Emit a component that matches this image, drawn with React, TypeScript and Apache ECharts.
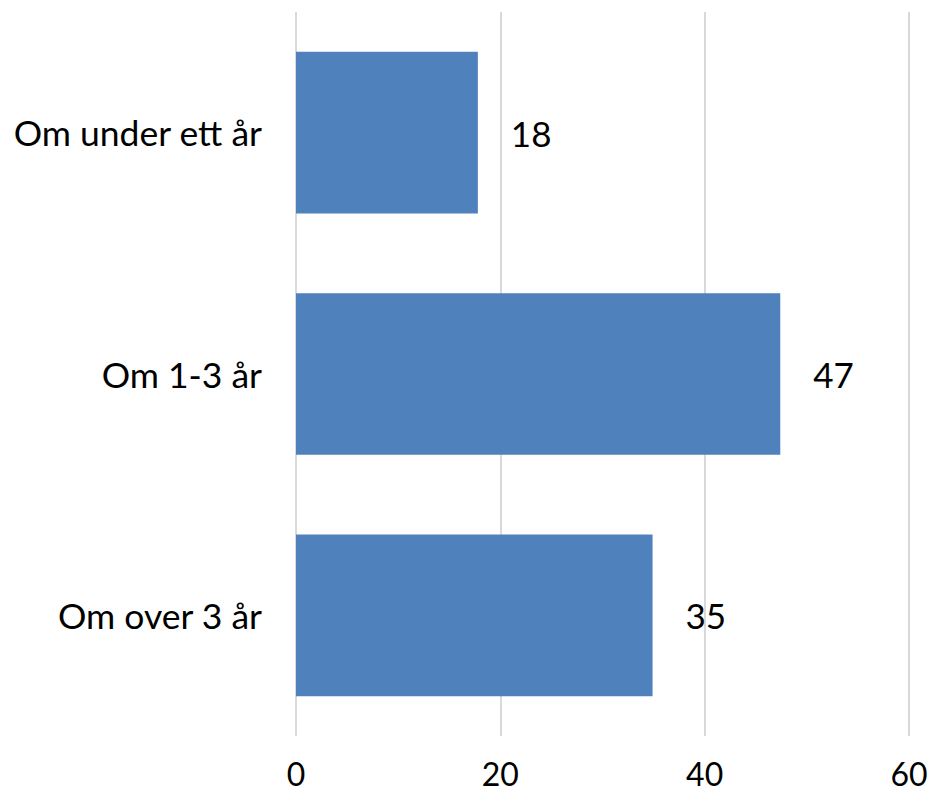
import React, { useEffect, useRef } from "react";
import * as echarts from "echarts";

const categories = ["Om under ett år", "Om 1-3 år", "Om over 3 år"];
const values = [17.8, 47.4, 34.9];
const xTicks = { min: 0, max: 60, interval: 20 };

const FONT = "Lato, 'Open Sans', sans-serif";

export default function App() {
  const ref = useRef<HTMLDivElement>(null);
  useEffect(() => {
    if (!ref.current) return;
    const chart = echarts.init(ref.current, undefined, { renderer: "svg" });
    chart.setOption({
      animation: false,
      backgroundColor: "#ffffff",
      grid: { left: 296, right: 24, top: 12, bottom: 57, containLabel: false },
      xAxis: {
        type: "value",
        min: xTicks.min,
        max: xTicks.max,
        interval: xTicks.interval,
        axisLine: { show: false },
        axisTick: { show: false },
        splitLine: { show: true, lineStyle: { color: "#d9d9d9", width: 2 } },
        axisLabel: {
          color: "#000",
          fontSize: 32,
          fontFamily: FONT,
          margin: 25,
          lineHeight: 24,
          verticalAlign: "top",
        },
      },
      yAxis: {
        type: "category",
        data: categories,
        inverse: true,
        axisLine: { show: false },
        axisTick: { show: false },
        splitLine: { show: false },
        axisLabel: { color: "#000", fontSize: 35.5, fontFamily: FONT, margin: 34 },
      },
      series: [
        {
          type: "bar",
          data: values,
          barCategoryGap: "33%",
          itemStyle: { color: "#4f81bd" },
          label: {
            show: true,
            position: "right",
            distance: 33,
            color: "#000",
            fontSize: 35,
            fontFamily: FONT,
            formatter: (p: any) => String(Math.round(p.value)),
          },
        },
      ],
    });
    return () => chart.dispose();
  }, []);
  return (
    <div
      ref={ref}
      style={{ position: "fixed", left: 0, top: 0, width: 933, height: 793, background: "#fff" }}
    />
  );
}
